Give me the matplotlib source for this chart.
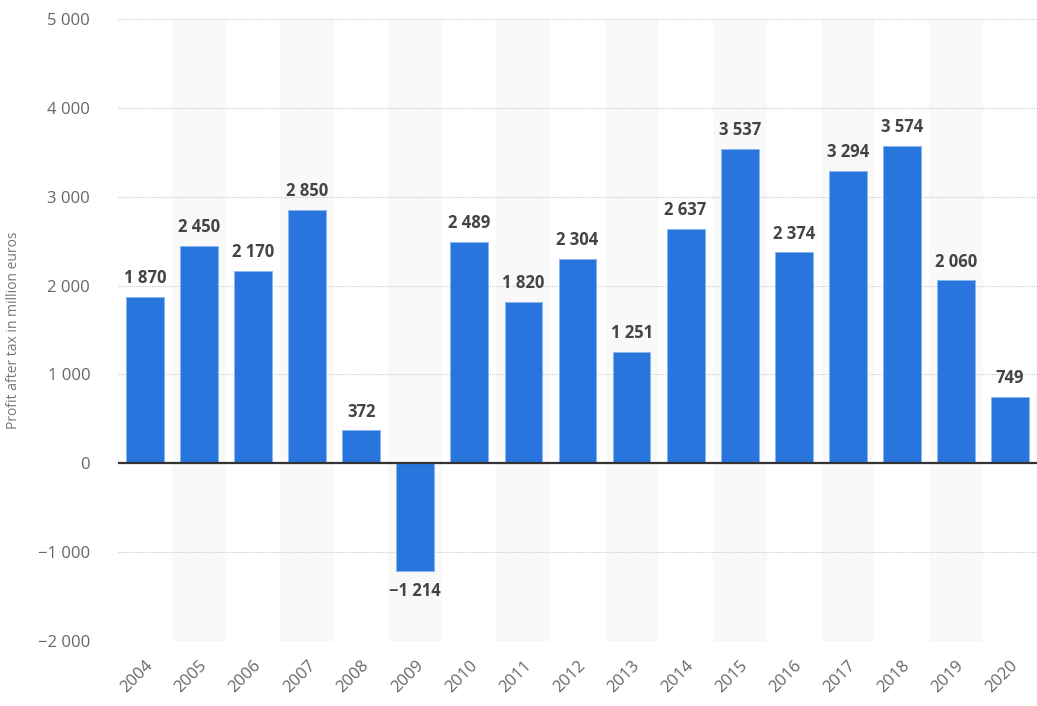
import matplotlib.pyplot as plt
import numpy as np

# 数据
years = ["2004", "2005", "2006", "2007", "2008", "2009", "2010", "2011", "2012",
         "2013", "2014", "2015", "2016", "2017", "2018", "2019", "2020"]
profit = [1870, 2450, 2170, 2850, 372, -1214, 2489, 1820, 2304,
          1251, 2637, 3537, 2374, 3294, 3574, 2060, 749]
y_ticks = [-2000, -1000, 0, 1000, 2000, 3000, 4000, 5000]


def fmt(v):
    s = "{:,}".format(abs(v)).replace(",", " ")
    return ("\u2212" + s) if v < 0 else s


def main():
    plt.rcParams['font.family'] = ['Open Sans', 'DejaVu Sans']
    fig = plt.figure(figsize=(10.37, 7.06), dpi=100)
    ax = fig.add_axes([0.1138, 0.092, 0.8862, 0.881])

    x = np.arange(len(years))

    # 交替背景条
    for i in x:
        if i % 2 == 1:
            ax.axvspan(i - 0.5, i + 0.5, color="#f9f9f9", zorder=0, lw=0)

    ax.bar(x, profit, width=0.7, color="#2876dd", edgecolor="#8ab6ee",
           linewidth=0.7, zorder=3)
    ax.axhline(0, color="#333333", lw=1.6, zorder=4)

    for i, v in zip(x, profit):
        if v >= 0:
            ax.annotate(fmt(v), (i, v), xytext=(0, 7), textcoords="offset points",
                        ha="center", va="bottom", fontsize=12, fontweight="bold",
                        color="#444444")
        else:
            ax.annotate(fmt(v), (i, v), xytext=(0, -8), textcoords="offset points",
                        ha="center", va="top", fontsize=12, fontweight="bold",
                        color="#444444")

    ax.set_xlim(-0.5, len(years) - 0.5)
    ax.set_ylim(-2000, 5000)
    ax.set_yticks(y_ticks)
    ax.set_yticklabels([fmt(t) for t in y_ticks], fontsize=12, color="#666666")
    ax.set_xticks(x)
    ax.set_xticklabels(years, rotation=45, ha="right", rotation_mode="anchor",
                       fontsize=12, color="#666666")
    ax.tick_params(axis="both", length=0)
    ax.tick_params(axis="y", pad=20)
    ax.tick_params(axis="x", pad=12)

    ax.grid(axis="y", linestyle=(0, (1, 1)), color="#cccccc", lw=0.8, zorder=1)
    for sp in ax.spines.values():
        sp.set_visible(False)

    ax.set_ylabel("Profit after tax in million euros", fontsize=10, color="#777777",
                  labelpad=12)

    plt.savefig("out.png", dpi=100)


if __name__ == '__main__':
    main()
